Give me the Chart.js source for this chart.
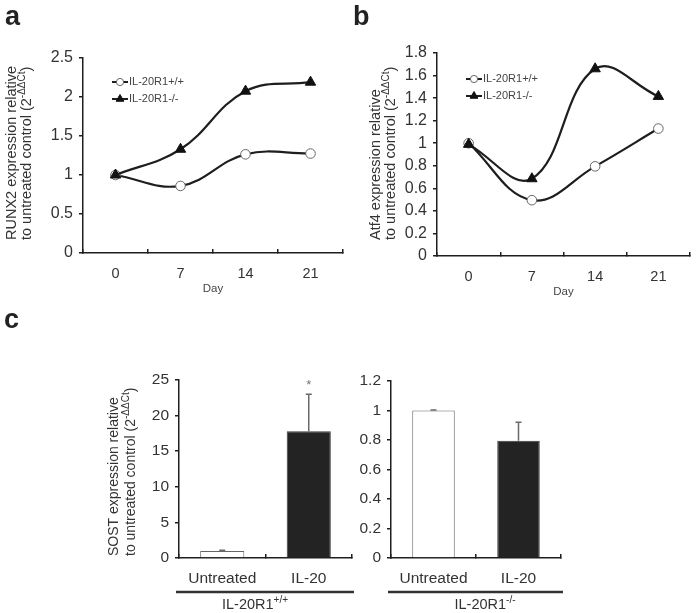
<!DOCTYPE html>
<html>
<head>
<meta charset="utf-8">
<script src="https://cdn.jsdelivr.net/npm/chart.js@4.4.1/dist/chart.umd.min.js"></script>
<style>
  html, body { margin: 0; padding: 0; background: #fff; }
  #wrap { position: relative; width: 697px; height: 613px; }
  #wrap canvas { position: absolute; left: 0; top: 0; }
</style>
</head>
<body>
<div id="wrap">
  <canvas id="chartA" width="697" height="613"></canvas>
  <canvas id="chartB" width="697" height="613"></canvas>
  <canvas id="chartC1" width="697" height="613"></canvas>
  <canvas id="chartC2" width="697" height="613"></canvas>
</div>
<script>
// ===== DATOS =====
const days = ['0', '7', '14', '21'];
const seriesLabels = ['IL-20R1+/+', 'IL-20R1-/-'];

// panel a: RUNX2
const runx2Wt = [1, 0.86, 1.265, 1.275];
const runx2Ko = [1, 1.33, 2.075, 2.19];

// panel b: Atf4
const atf4Wt = [1, 0.495, 0.795, 1.13];
const atf4Ko = [0.99, 0.685, 1.66, 1.415];

// panel c: SOST
const treatments = ['Untreated', 'IL-20'];
const sostWt = [1, 17.8];
const sostWtErr = [0.08, 5.2];
const sostWtSig = ['', '*'];
const sostKo = [1, 0.795];
const sostKoErr = [0.004, 0.125];
const sostKoSig = ['', ''];

// ===== ESTILO GLOBAL =====
const FONT = "'Liberation Sans', Arial, Helvetica, sans-serif";
const INK = '#1e1e1e';
const TEXT = '#333';
Chart.defaults.font.family = FONT;
Chart.defaults.color = TEXT;
Chart.defaults.animation = false;

// texto con superíndice: parts = [[texto, esSup], ...]
function drawRich(ctx, x, y, parts, size, align) {
    const supSize = Math.round(size * 0.68);
    let total = 0;
    parts.forEach(p => {
        ctx.font = (p[1] ? supSize : size) + 'px ' + FONT;
        total += ctx.measureText(p[0]).width;
    });
    let cx = align === 'center' ? x - total / 2 : x;
    ctx.textAlign = 'left';
    ctx.textBaseline = 'middle';
    parts.forEach(p => {
        ctx.font = (p[1] ? supSize : size) + 'px ' + FONT;
        ctx.fillText(p[0], cx, p[1] ? y - size * 0.36 : y);
        cx += ctx.measureText(p[0]).width;
    });
}

function drawYTitle(ctx, x, yStart, lines, size, gap) {
    lines.forEach((parts, i) => {
        ctx.save();
        ctx.translate(x + i * gap, yStart);
        ctx.rotate(-Math.PI / 2);
        ctx.fillStyle = TEXT;
        drawRich(ctx, 0, 0, parts, size, 'left');
        ctx.restore();
    });
}

function drawLetter(ctx, letter, x, y) {
    ctx.save();
    ctx.fillStyle = '#222';
    ctx.font = 'bold 27px ' + FONT;
    ctx.textAlign = 'left';
    ctx.textBaseline = 'alphabetic';
    ctx.fillText(letter, x, y);
    ctx.restore();
}

function drawMarker(ctx, style, x, y, r) {
    ctx.beginPath();
    if (style === 'triangle') {
        let rad = 0;
        ctx.moveTo(x + Math.sin(rad) * r, y - Math.cos(rad) * r);
        rad += Math.PI * 2 / 3;
        ctx.lineTo(x + Math.sin(rad) * r, y - Math.cos(rad) * r);
        rad += Math.PI * 2 / 3;
        ctx.lineTo(x + Math.sin(rad) * r, y - Math.cos(rad) * r);
        ctx.closePath();
    } else {
        ctx.arc(x, y, r, 0, Math.PI * 2);
    }
    ctx.fill();
    ctx.stroke();
}

// leyenda dentro del área del gráfico
function drawLegend(chart, x, y, rowGap) {
    const ctx = chart.ctx;
    ctx.save();
    chart.data.datasets.forEach((ds, i) => {
        const yy = y + i * rowGap;
        ctx.strokeStyle = ds.borderColor;
        ctx.lineWidth = 2;
        ctx.beginPath();
        ctx.moveTo(x, yy);
        ctx.lineTo(x + 16, yy);
        ctx.stroke();
        ctx.fillStyle = ds.pointBackgroundColor;
        ctx.strokeStyle = ds.pointBorderColor;
        ctx.lineWidth = 1;
        drawMarker(ctx, ds.pointStyle, x + 8, yy, ds.pointStyle === 'triangle' ? 4.5 : 3.6);
        ctx.fillStyle = '#444';
        ctx.font = '11px ' + FONT;
        ctx.textAlign = 'left';
        ctx.textBaseline = 'middle';
        ctx.fillText(ds.label, x + 17, yy);
    });
    ctx.restore();
}

function drawXTitle(ctx, text, x, y) {
    ctx.save();
    ctx.fillStyle = '#444';
    ctx.font = '11.5px ' + FONT;
    ctx.textAlign = 'center';
    ctx.textBaseline = 'middle';
    ctx.fillText(text, x, y);
    ctx.restore();
}

function drawGroup(ctx, area, parts, labelX) {
    ctx.save();
    ctx.strokeStyle = '#333';
    ctx.lineWidth = 2.5;
    ctx.beginPath();
    ctx.moveTo(area.left - 3, area.bottom + 34);
    ctx.lineTo(area.right + 2, area.bottom + 34);
    ctx.stroke();
    ctx.fillStyle = TEXT;
    drawRich(ctx, labelX, area.bottom + 47, parts, 14.5, 'center');
    ctx.restore();
}

// barras de error (solo hacia arriba) + marcas de significancia
const errorBarPlugin = {
    id: 'errorBars',
    afterDatasetsDraw(chart, args, opts) {
        const ctx = chart.ctx;
        const meta = chart.getDatasetMeta(0);
        const values = chart.data.datasets[0].data;
        const yScale = chart.scales.y;
        ctx.save();
        ctx.strokeStyle = '#6a6a6a';
        ctx.lineWidth = 1.5;
        opts.errors.forEach((err, i) => {
            const bar = meta.data[i];
            const yBase = yScale.getPixelForValue(values[i]);
            const yTop = yScale.getPixelForValue(values[i] + err);
            ctx.beginPath();
            ctx.moveTo(bar.x, yBase);
            ctx.lineTo(bar.x, yTop);
            ctx.moveTo(bar.x - 3, yTop);
            ctx.lineTo(bar.x + 3, yTop);
            ctx.stroke();
            if (opts.marks[i]) {
                ctx.fillStyle = '#777';
                ctx.font = '13px ' + FONT;
                ctx.textAlign = 'center';
                ctx.textBaseline = 'middle';
                ctx.fillText(opts.marks[i], bar.x, yTop - 9);
            }
        });
        ctx.restore();
    }
};

// ===== CONFIG COMÚN DE EJES =====
function yAxis(max, step, fontSize) {
    return {
        min: 0,
        max: max,
        afterFit: s => { s.width = 50; },
        border: { color: INK, width: 1.5 },
        grid: { drawOnChartArea: false, drawTicks: true, tickLength: 4, color: INK, lineWidth: 1.5 },
        ticks: {
            stepSize: step,
            padding: 6,
            color: TEXT,
            font: { size: fontSize },
            callback: value => String(Number(value.toFixed(2)))
        }
    };
}

function xAxis(fontSize, pad) {
    return {
        offset: true,
        afterFit: s => { s.height = 40; },
        border: { color: INK, width: 1.5 },
        grid: { offset: true, drawOnChartArea: false, drawTicks: true, tickLength: -4, color: INK, lineWidth: 1.5 },
        ticks: { padding: pad, color: TEXT, font: { size: fontSize } }
    };
}

function lineDatasets(wt, ko) {
    return [
        {
            label: seriesLabels[0],
            data: wt,
            order: 2,
            borderColor: INK,
            borderWidth: 2.2,
            tension: 0.4,
            pointStyle: 'circle',
            pointRadius: 4.8,
            pointBackgroundColor: '#fff',
            pointBorderColor: '#666',
            pointBorderWidth: 1
        },
        {
            label: seriesLabels[1],
            data: ko,
            order: 1,
            borderColor: INK,
            borderWidth: 2.2,
            tension: 0.4,
            pointStyle: 'triangle',
            pointRadius: 6,
            pointBackgroundColor: '#111',
            pointBorderColor: '#111',
            pointBorderWidth: 1
        }
    ];
}

const titleLine2 = [['to untreated control (2', false], ['-ΔΔCt', true], [')', false]];

// ===== PANEL a =====
new Chart(document.getElementById('chartA'), {
    type: 'line',
    data: { labels: days, datasets: lineDatasets(runx2Wt, runx2Ko) },
    options: {
        responsive: false,
        layout: { padding: { left: 33, right: 354, top: 58, bottom: 320 } },
        plugins: { legend: { display: false }, tooltip: { enabled: false } },
        scales: { x: xAxis(14.5, 16), y: yAxis(2.5, 0.5, 16) }
    },
    plugins: [{
        id: 'decorA',
        afterDraw(chart) {
            const ctx = chart.ctx, a = chart.chartArea;
            drawLetter(ctx, 'a', 5, 25);
            drawYTitle(ctx, a.left - 71, a.bottom - 13, [[['RUNX2 expression relative', false]], titleLine2], 14.5, 15);
            drawXTitle(ctx, 'Day', (a.left + a.right) / 2, a.bottom + 36);
            drawLegend(chart, a.left + 29, a.top + 24, 17);
        }
    }]
});

// ===== PANEL b =====
new Chart(document.getElementById('chartB'), {
    type: 'line',
    data: { labels: days, datasets: lineDatasets(atf4Wt, atf4Ko) },
    options: {
        responsive: false,
        layout: { padding: { left: 387, right: 5, top: 53, bottom: 317 } },
        plugins: { legend: { display: false }, tooltip: { enabled: false } },
        scales: { x: xAxis(14.5, 16), y: yAxis(1.8, 0.2, 16) }
    },
    plugins: [{
        id: 'decorB',
        afterDraw(chart) {
            const ctx = chart.ctx, a = chart.chartArea;
            drawLetter(ctx, 'b', 353, 25);
            drawYTitle(ctx, a.left - 61, a.bottom - 16, [[['Atf4 expression relative', false]], titleLine2], 14.5, 15);
            drawXTitle(ctx, 'Day', (a.left + a.right) / 2, a.bottom + 36);
            drawLegend(chart, a.left + 29, a.top + 26, 17);
        }
    }]
});

// ===== PANEL c (IL-20R1 +/+) =====
new Chart(document.getElementById('chartC1'), {
    type: 'bar',
    data: {
        labels: treatments,
        datasets: [{
            data: sostWt,
            backgroundColor: ['#fff', '#232323'],
            borderColor: ['#666', '#3a3a3a'],
            borderWidth: 1,
            categoryPercentage: 1,
            barPercentage: 0.51
        }]
    },
    options: {
        responsive: false,
        layout: { padding: { left: 129, right: 345, top: 380, bottom: 15 } },
        plugins: {
            legend: { display: false },
            tooltip: { enabled: false },
            errorBars: { errors: sostWtErr, marks: sostWtSig }
        },
        scales: { x: xAxis(15.5, 15), y: yAxis(25, 5, 15.5) }
    },
    plugins: [errorBarPlugin, {
        id: 'decorC1',
        afterDraw(chart) {
            const ctx = chart.ctx, a = chart.chartArea;
            drawLetter(ctx, 'c', 4, 328);
            drawYTitle(ctx, a.left - 65, a.bottom - 2, [[['SOST expression relative', false]], titleLine2], 14, 17);
            drawGroup(ctx, a, [['IL-20R1', false], ['+/+', true]], a.left + 76);
        }
    }]
});

// ===== PANEL c (IL-20R1 -/-) =====
new Chart(document.getElementById('chartC2'), {
    type: 'bar',
    data: {
        labels: treatments,
        datasets: [{
            data: sostKo,
            backgroundColor: ['#fff', '#232323'],
            borderColor: ['#666', '#3a3a3a'],
            borderWidth: 1,
            categoryPercentage: 1,
            barPercentage: 0.5
        }]
    },
    options: {
        responsive: false,
        layout: { padding: { left: 341, right: 136, top: 381, bottom: 15 } },
        plugins: {
            legend: { display: false },
            tooltip: { enabled: false },
            errorBars: { errors: sostKoErr, marks: sostKoSig }
        },
        scales: { x: xAxis(15.5, 15), y: yAxis(1.2, 0.2, 15.5) }
    },
    plugins: [errorBarPlugin, {
        id: 'decorC2',
        afterDraw(chart) {
            const ctx = chart.ctx, a = chart.chartArea;
            drawGroup(ctx, a, [['IL-20R1', false], ['-/-', true]], a.left + 94);
        }
    }]
});
</script>
</body>
</html>
